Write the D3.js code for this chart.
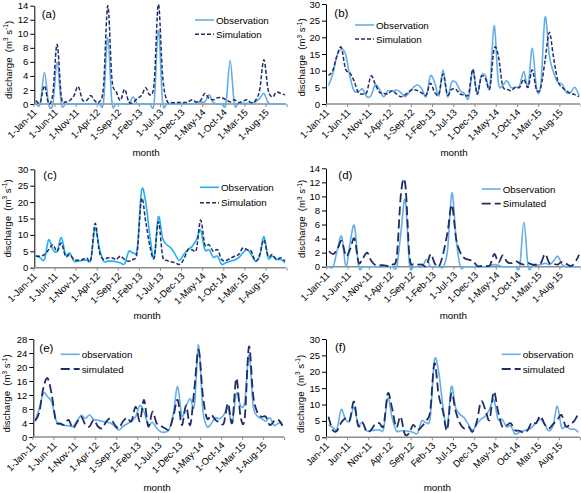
<!DOCTYPE html>
<html><head><meta charset="utf-8">
<script src="https://cdn.jsdelivr.net/npm/d3@7"></script>
<style>
body{margin:0;background:#fff}
svg{display:block}
text{font-family:"Liberation Sans",Arial,sans-serif;fill:#000}
</style>
</head><body>
<svg id="c" width="581" height="493"></svg>
<script>
// ---------- categories ----------
const months = ["Jan-11","Feb-11","Mar-11","Apr-11","May-11","Jun-11","Jul-11","Aug-11","Sep-11","Oct-11","Nov-11","Dec-11",
"Jan-12","Feb-12","Mar-12","Apr-12","May-12","Jun-12","Jul-12","Aug-12","Sep-12","Oct-12","Nov-12","Dec-12",
"Jan-13","Feb-13","Mar-13","Apr-13","May-13","Jun-13","Jul-13","Aug-13","Sep-13","Oct-13","Nov-13","Dec-13",
"Jan-14","Feb-14","Mar-14","Apr-14","May-14","Jun-14","Jul-14","Aug-14","Sep-14","Oct-14","Nov-14","Dec-14",
"Jan-15","Feb-15","Mar-15","Apr-15","May-15","Jun-15","Jul-15","Aug-15","Sep-15","Oct-15","Nov-15","Dec-15"];
const tickMonths = ["Jan-11","Jun-11","Nov-11","Apr-12","Sep-12","Feb-13","Jul-13","Dec-13","May-14","Oct-14","Mar-15","Aug-15"];
const tickLabelsDay = ["1-Jan-11","1-Jun-11","1-Nov-11","1-Apr-12","1-Sep-12","1-Feb-13","1-Jul-13","1-Dec-13","1-May-14","1-Oct-14","1-Mar-15","1-Aug-15"];
const tickLabelsPlain = ["Jan-11","Jun-11","Nov-11","Apr-12","Sep-12","Feb-13","Jul-13","Dec-13","May-14","Oct-14","Mar-15","Aug-15"];

// ---------- series (m3/s) ----------
const obsA = [0.1,0,4.5,0,0,6.0,0,0,0,0, 0,0,0,0,0,0,0.3,9.5,0.2,0, 0,0,0,1.0,0,0,0,0,0.2,10.5,
  0.3,0,0,0,0,0,0,0,0.2,0.3, 0.3,1.3,0.2,0,0,0,6.2,0,0.1,0.1, 0.1,0.1,0.3,0.8,1.5,0.2,0,0,0,0];
const simA = [0.5,0.2,2.6,0.1,1.5,8.5,1.0,0.3,0.5,1.2, 2.5,0.6,0.5,1.2,0.4,0.3,2.5,14.0,3.5,1.8,
  0.5,2.1,0.3,0.2,0.8,1.2,2.3,1.3,3.0,14.2, 4.0,0.5,0.2,0.2,0.2,0.2,0.3,0.6,0.3,0.5,
  1.5,0.8,0.6,0.9,0.9,0.6,0.3,0.6,0.2,0.4, 0.6,0.2,0.5,2.0,6.3,2.0,1.0,1.7,1.5,1.3];

const obsB = [5.5,9,14.5,16.5,15,8.5,4,3.7,4.5,2.2, 2.5,5.7,4.4,2.2,4,3.8,4.2,3.5,2.2,3.4,
  5,5.7,4.5,2.2,8.4,6.5,2.5,10.2,2.2,6.5, 6.5,4,3.2,1.7,10.3,3,8.5,8.5,5,23.5,
  6.5,5.5,7,5,5,5.5,9.7,5.2,16.7,4.7, 5.5,26,14.5,9.5,6.5,6,3.5,3.4,5,2.5];
const simB = [8.6,10,14.5,17,10.5,9.4,7,3.5,3,3.5, 8.4,6,3.5,3.2,3,4,3,2.2,2.7,3.8,
  4.3,4,3.3,2.7,6.2,3.5,3,9,2.8,4.4, 4.4,3,2.8,3,10.4,3,8.2,7.5,4.7,16.5,
  14.5,5.5,4.5,4,5,5,7.4,5,10.2,4.2, 5,13,21.5,14,7,5,4,3.2,2.8,2.2];

const obsC = [3.8,3,2.5,8.5,5.5,5,9.2,4,4.5,2, 2,2.2,2.3,2.5,12,6,2,2,2,1.8,
  1.5,1.2,5,4.5,6,23.5,20,9.5,3,15.5, 9,7,6,4,2.2,4,5.5,6.5,8.5,11.5,
  5.5,5.5,3.2,3.5,1,1.5,2,2.3,3,4.5, 5.5,4,2,3.5,9.5,3,3.5,2.5,2.5,1.5];
const simC = [3.5,3.5,4,5.5,7,5,7.5,3.5,4,2.5, 2.3,2.5,3,2.5,13.5,5,2.5,3,3,2.5,
  3.5,2.5,2,2.5,5,21,14,6.5,3,14, 3.5,2.2,1.8,1.5,1,2.5,5.5,5.5,5.5,14.5,
  7,7,5,5.5,2.5,2.2,2.8,3.5,4,6, 5.5,5,2,4,8.5,3.5,4,2.5,3,2];

const obsD = [0,0,2.5,4.3,0,3.5,5.8,0,0,0, 0,0,0,0,0,0,0,5,9.5,0.3,
  0,0,0,1.0,0,0,0,0,2.5,10.5, 4,0,0,0,0,0,0,0,0.2,0.3,
  0.2,0,0,0,0,0,6.3,0,0.1,0.2, 0.3,0.5,0.3,0.8,1.5,0.3,0,0,0,0];
const simD = [2.2,1.8,2.5,3.7,1.5,2.5,4,0.6,1.2,2, 0.8,0.2,0.2,0.2,0.1,0.3,1.5,10.5,11.8,1.5,
  0.3,0.3,0.3,0.1,1.8,0.4,0.1,2,5,8.8, 4,2,1.2,1,0.8,0.1,0.1,0.1,0.2,1.8,
  0.6,1.6,0.7,0.5,0.8,0.5,0.3,0.5,0.3,0.3, 0.5,1.8,0.5,0.4,0.3,0.7,0.4,0.1,0.5,1.7];

const obsE = [4.6,8,12.5,11.5,10,4.8,3.6,3.3,3.2,3, 4.5,6.2,5.3,6.3,5,4.8,4.5,4.2,4,3,
  2,3,3.8,4.5,5.8,9,7.2,3.5,4.2,2.5, 1.5,1.4,2.2,6.8,14.4,6,8.7,11,9,26.3,
  8,3,3.8,5.5,5.2,6.3,8.2,4,12.5,9, 10,23.4,9,6,5.3,4.5,5.5,3.3,3.9,4.2];
const simE = [4.6,7,14,16.8,12,4.5,3.9,3.5,4.9,2.5, 4.2,5.8,3.5,3,4.9,3,2.5,4.4,5.3,3.5,
  2.5,4.5,5.5,4.5,8.7,4.5,10.6,3,7.2,3.9, 3.2,2.5,2.2,6,10.6,3.4,9,3.4,13.9,24.9,
  12,5.3,6.3,4.9,4.2,3.9,9.6,4,16.8,5.8, 5.5,25.8,12,7,5.8,5.8,3.4,4.6,4.9,3.2];

const obsF = [3.8,3,2.5,8.5,5.5,5,9.2,4,4.5,2, 2,2.2,2.3,2.5,12,6,2,2,2,1.8,
  1.5,1.2,5,4.5,6,23.5,20,9.5,3,15.5, 9,7,6,4,2.2,4,5.5,6.5,8.5,11.5,
  5.5,5.5,3.2,3.5,1,1.5,2,2.3,3,4.5, 5.5,4,2,3.5,9.5,3,3.5,2.5,2.5,1.5];
const simF = [6.3,2.2,2,4.5,5.8,5.2,10.9,3.5,4.6,1.7, 2.2,4,4.3,3.6,13.4,8.9,3,6.3,1,1.2,
  3.8,2.2,3.3,5,8,22.6,12.9,8,2.2,13.4, 8,4.3,2.7,3.3,1.7,4.8,10.9,8.5,5.3,13.9,
  8,3.3,3.6,4.3,2.2,2,1.5,2.2,4.6,4.3, 6.5,4,2.7,4,5.3,6.8,3.3,4,5,7.3];

// ---------- layout ----------
const OBS = "#66aee8", OBS_C = "#22b1ee", SIM = "#1f2d69";
const panels = [
 {tag:"(a)", obs:obsA, sim:simA, ymax:14, ystep:2, L:34.3, R:286, p0:36, p1:285, top:5.7, bot:104,
  names:["Observation","Simulation"], dash:"4,2", sw:1.5, oc:OBS, ticks:tickLabelsDay,
  leg:[195,20,34.3], lab:[41.7,17.5], ylab:[11.8,60], mon:[146,155.5]},
 {tag:"(b)", obs:obsB, sim:simB, ymax:30, ystep:5, L:326, R:580, p0:328.5, p1:579, top:4, bot:104,
  names:["Observation","Simulation"], dash:"4,2", sw:1.5, oc:OBS, ticks:tickLabelsDay,
  leg:[355,25,39], lab:[334.3,16.5], ylab:[305,57.5], mon:[454,155.5]},
 {tag:"(c)", obs:obsC, sim:simC, ymax:30, ystep:5, L:34.3, R:286, p0:36, p1:285, top:169.3, bot:267.7,
  names:["Observation","Simulation"], dash:"4,2", sw:1.5, oc:OBS_C, ticks:tickLabelsDay,
  leg:[200,187.3,202.7], lab:[43.3,178.5], ylab:[10.8,218.5], mon:[147,318.5]},
 {tag:"(d)", obs:obsD, sim:simD, ymax:14, ystep:2, L:326, R:580.5, p0:329, p1:579, top:168.3, bot:266.7,
  names:["Observation","Simulated"], dash:"9,4", sw:1.8, oc:OBS, ticks:tickLabelsDay,
  leg:[481.7,189,203.7], lab:[338.3,178.5], ylab:[305,219], mon:[453.3,319]},
 {tag:"(e)", obs:obsE, sim:simE, ymax:28, ystep:4, L:33.3, R:284, p0:35, p1:282.5, top:339, bot:437,
  names:["observation","simulated"], dash:"9,4", sw:1.8, oc:OBS, ticks:tickLabelsDay,
  leg:[60.7,354.3,369], lab:[39.3,351.5], ylab:[10.2,393.5], mon:[157,490.5]},
 {tag:"(f)", obs:obsF, sim:simF, ymax:30, ystep:5, L:326, R:580, p0:328.5, p1:578.5, top:339, bot:437.3,
  names:["observation","simulated"], dash:"9,4", sw:1.8, oc:OBS, ticks:tickLabelsPlain,
  leg:[501.7,354.3,369], lab:[335,351], ylab:[303.5,394], mon:[437.3,490.5]}
];

const svg = d3.select("#c");

panels.forEach(p => {
  const x = d3.scalePoint().domain(months).range([p.p0, p.p1]);
  const y = d3.scaleLinear().domain([0, p.ymax]).range([p.bot, p.top]);
  const step = x.step();
  const g = svg.append("g");

  // y axis
  const ya = g.append("g").attr("transform", `translate(${p.L},0)`)
    .call(d3.axisLeft(y).tickValues(d3.range(0, p.ymax + 0.001, p.ystep)).tickSize(4).tickSizeOuter(0).tickPadding(2));
  ya.attr("font-family", null).attr("font-size", null);
  ya.select(".domain").attr("stroke", "#000").attr("stroke-width", 1);
  ya.selectAll(".tick line").attr("stroke", "#000");
  ya.selectAll(".tick text").style("font-size", "9.5px");

  // x axis baseline
  const y0 = y(0);
  g.append("line").attr("x1", p.L).attr("x2", p.R).attr("y1", y0).attr("y2", y0)
    .attr("stroke", "#8c8c8c").attr("stroke-width", 1.6);
  const tickPos = tickMonths.map(m => x(m) - step / 2).concat([x(months[months.length - 1]) + step / 2]);
  g.selectAll(".xt").data(tickPos).enter().append("line")
    .attr("x1", d => d).attr("x2", d => d).attr("y1", y0).attr("y2", y0 + 3)
    .attr("stroke", "#8c8c8c").attr("stroke-width", 1);

  // x tick labels
  const xa = g.append("g").attr("transform", `translate(0,${y0})`)
    .call(d3.axisBottom(x).tickValues(tickMonths).tickSize(0).tickFormat((d, i) => p.ticks[i]));
  xa.attr("font-family", null).attr("font-size", null);
  xa.select(".domain").remove();
  xa.selectAll(".tick text").attr("x", 0).attr("y", 0).attr("dy", 0)
    .attr("transform", "translate(1,9) rotate(-45)").attr("text-anchor", "end")
    .style("font-size", "9.5px");

  // lines (uniform Catmull-Rom, like spreadsheet smoothing)
  const line = d3.line().x((d, i) => x(months[i])).y(d => y(d)).curve(d3.curveCatmullRom.alpha(0));
  g.append("path").datum(p.obs).attr("d", line).attr("fill", "none")
    .attr("stroke", p.oc).attr("stroke-width", 1.6);
  g.append("path").datum(p.sim).attr("d", line).attr("fill", "none")
    .attr("stroke", SIM).attr("stroke-width", p.sw).attr("stroke-dasharray", p.dash);

  // legend
  const [lx, ly1, ly2] = p.leg;
  g.append("line").attr("x1", lx).attr("x2", lx + 19).attr("y1", ly1).attr("y2", ly1)
    .attr("stroke", p.oc).attr("stroke-width", 1.6);
  g.append("line").attr("x1", lx).attr("x2", lx + 19).attr("y1", ly2).attr("y2", ly2)
    .attr("stroke", SIM).attr("stroke-width", p.sw).attr("stroke-dasharray", p.dash);
  g.append("text").attr("x", lx + 21).attr("y", ly1 + 3.5).style("font-size", "9.8px").text(p.names[0]);
  g.append("text").attr("x", lx + 21).attr("y", ly2 + 3.5).style("font-size", "9.8px").text(p.names[1]);

  // panel tag
  g.append("text").attr("x", p.lab[0]).attr("y", p.lab[1]).style("font-size", "11.5px").text(p.tag);

  // axis titles
  g.append("text").attr("x", p.mon[0]).attr("y", p.mon[1]).attr("text-anchor", "middle")
    .style("font-size", "9.8px").text("month");
  const yt = g.append("text").attr("transform", `translate(${p.ylab[0]},${p.ylab[1]}) rotate(-90)`)
    .attr("text-anchor", "middle").style("font-size", "9.6px").attr("xml:space", "preserve");
  yt.append("tspan").text("discharge  (m");
  yt.append("tspan").attr("dy", -3.5).style("font-size", "6.5px").text("3");
  yt.append("tspan").attr("dy", 3.5).text(" s");
  yt.append("tspan").attr("dy", -3.5).style("font-size", "6.5px").text("-1");
  yt.append("tspan").attr("dy", 3.5).text(")");
});
</script>
</body></html>
